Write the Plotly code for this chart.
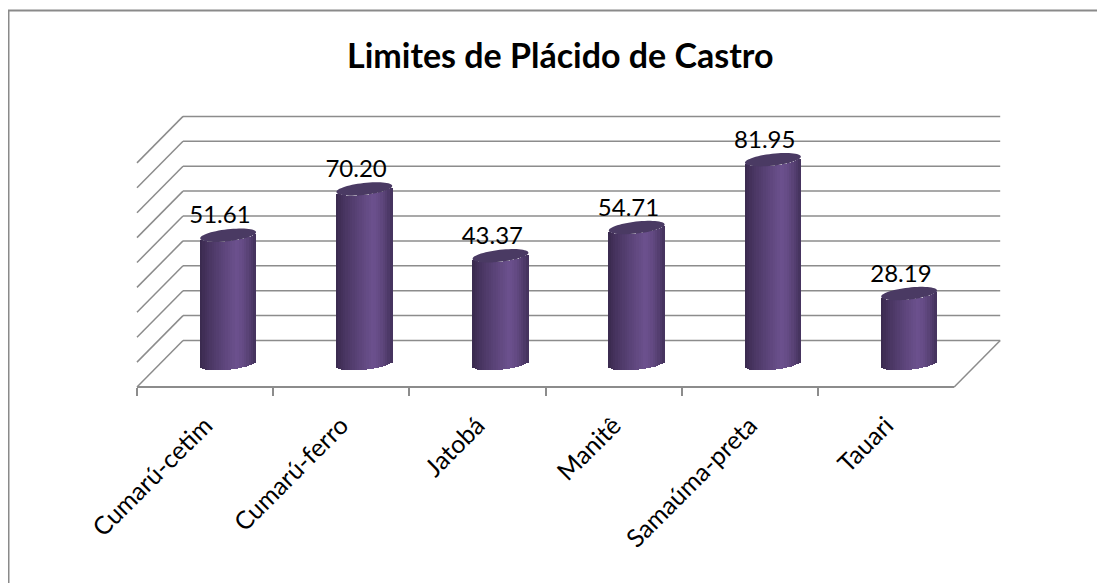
import numpy as np
import plotly.graph_objects as go

# ---- data ----
categories = ["Cumarú-cetim", "Cumarú-ferro", "Jatobá", "Manitê", "Samaúma-preta", "Tauari"]
values = [51.61, 70.20, 43.37, 54.71, 81.95, 28.19]
value_labels = ["51.61", "70.20", "43.37", "54.71", "81.95", "28.19"]
grid_values = [0, 10, 20, 30, 40, 50, 60, 70, 80, 90]
title_text = "<b>Limites de Plácido de Castro</b>"

# ---- layout geometry (pixels of the 1105x583 page; page body has an 8px margin) ----
W, H = 1105, 583
OFF = 8.0
PX_PER_X = 136.2
X_BACK_LEFT_PX = 183.0 - OFF
PX_PER_V = 2.49
V0_PX = 340.5 - OFF
DEPTH_DX = -46.0 / PX_PER_X
DEPTH_DY = -46.5 / PX_PER_V

x_range = [-0.5 + (0 - X_BACK_LEFT_PX) / PX_PER_X, -0.5 + (W - X_BACK_LEFT_PX) / PX_PER_X]
y_range = [(V0_PX - H) / PX_PER_V, (V0_PX - 0) / PX_PER_V]

GRID = "#8c8c8c"
n = len(categories)

fig = go.Figure()
shapes = []

# back wall gridlines + left wall diagonals
for v in grid_values:
    shapes.append(dict(type="line", xref="x", yref="y", x0=-0.5, x1=n - 0.5, y0=v, y1=v,
                       line=dict(color=GRID, width=1.5), layer="below"))
    shapes.append(dict(type="line", xref="x", yref="y", x0=-0.5, x1=-0.5 + DEPTH_DX,
                       y0=v, y1=v + DEPTH_DY, line=dict(color=GRID, width=1.5), layer="below"))
# floor: right diagonal + front edge
shapes.append(dict(type="line", xref="x", yref="y", x0=n - 0.5, x1=n - 0.5 + DEPTH_DX,
                   y0=0, y1=DEPTH_DY, line=dict(color=GRID, width=1.5), layer="below"))
shapes.append(dict(type="line", xref="x", yref="y", x0=-0.5 + DEPTH_DX, x1=n - 0.5 + DEPTH_DX,
                   y0=DEPTH_DY, y1=DEPTH_DY, line=dict(color=GRID, width=2), layer="below"))

# ---- cylinders (vertical strips give the shading) ----
bar_w = 0.41
ry = 6.0 / PX_PER_V
shear = 3.0 / PX_PER_V
N = 24
centers = [i + DEPTH_DX / 2 for i in range(n)]
base_c = DEPTH_DY / 2

dark_l = np.array([0x38, 0x28, 0x4c])
light = np.array([0x6b, 0x50, 0x8d])
dark_r = np.array([0x42, 0x31, 0x5a])
for k in range(N):
    t = -1 + (2 * k + 1) / N
    if t < 0.3:
        f = (t + 1) / 1.3
        c = dark_l + (light - dark_l) * (f ** 0.8)
    else:
        f = (t - 0.3) / 0.7
        c = light + (dark_r - light) * (f ** 1.6)
    col = "rgb(%d,%d,%d)" % tuple(int(round(q)) for q in c)
    off = base_c - ry * np.sqrt(max(0.0, 1 - t * t)) + shear * t
    fig.add_trace(go.Bar(
        x=[cx + t * bar_w / 2 for cx in centers], y=values, base=[off] * n,
        width=bar_w / N * 1.25, marker=dict(color=col, line=dict(width=0)),
        showlegend=False, hoverinfo="skip"))

# top caps
th = np.linspace(0, 2 * np.pi, 60)
for cx, v in zip(centers, values):
    topc = base_c + v
    xs = cx + bar_w / 2 * np.cos(th)
    ys = topc + ry * np.sin(th) + shear * np.cos(th)
    path = "M " + " L ".join("%.5f,%.5f" % (a, b) for a, b in zip(xs, ys)) + " Z"
    shapes.append(dict(type="path", xref="x", yref="y", path=path,
                       fillcolor="#4a3a63", line=dict(width=0), layer="above"))

# value labels
fig.add_trace(go.Scatter(
    x=[cx - 0.06 for cx in centers], y=[base_c + v + ry for v in values],
    mode="text", text=value_labels, textposition="top center",
    textfont=dict(family="Lato", size=24, color="black"),
    showlegend=False, hoverinfo="skip", cliponaxis=False))

# invisible trace for category axis
fig.add_trace(go.Scatter(x=categories, y=[0] * n, xaxis="x2", yaxis="y", mode="markers",
                         marker=dict(opacity=0), showlegend=False, hoverinfo="skip"))

# chart border (top and left visible)
top_b = 10.5 - OFF
shapes.append(dict(type="line", xref="paper", yref="paper", x0=0, x1=1, y0=1 - top_b / H, y1=1 - top_b / H,
                   line=dict(color="#8a8a8a", width=2)))
shapes.append(dict(type="line", xref="paper", yref="paper", x0=0.5 / W, x1=0.5 / W, y0=0, y1=1 - top_b / H,
                   line=dict(color="#8a8a8a", width=2)))

front_left_px = X_BACK_LEFT_PX - 46.0
front_right_px = front_left_px + n * PX_PER_X
front_y_px = V0_PX + 46.5

fig.update_layout(
    width=W, height=H,
    margin=dict(l=0, r=0, t=0, b=0),
    paper_bgcolor="white", plot_bgcolor="rgba(0,0,0,0)",
    barmode="overlay", bargap=0,
    shapes=shapes,
    xaxis=dict(range=x_range, visible=False, domain=[0, 1]),
    yaxis=dict(range=y_range, visible=False, domain=[0, 1]),
    xaxis2=dict(type="category", categoryarray=categories, range=[-0.5, n - 0.5],
                domain=[front_left_px / W, front_right_px / W], anchor="free",
                position=1 - front_y_px / H, tickson="boundaries", ticks="outside",
                ticklen=8, tickwidth=1.5, tickcolor=GRID, showline=False, showgrid=False,
                zeroline=False, tickangle=-45, ticklabelstandoff=18,
                tickfont=dict(family="Lato", size=25, color="black"), automargin=False),
    annotations=[dict(text=title_text, x=(560 - OFF) / W, y=1 - (54 - OFF) / H, xref="paper", yref="paper",
                      xanchor="center", yanchor="middle", showarrow=False,
                      font=dict(family="Lato", size=34, color="black"))],
    showlegend=False,
)

fig.write_html("out.html")
